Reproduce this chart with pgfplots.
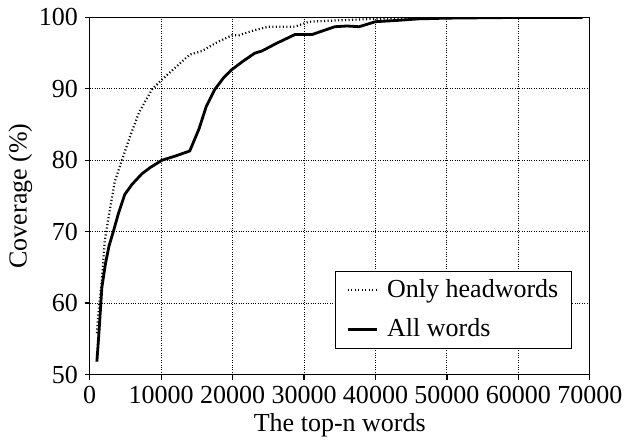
\documentclass[border=0pt]{standalone}
\usepackage{fontspec}
\setmainfont{Liberation Serif}
\usepackage{pgfplots}
\pgfplotsset{compat=1.18}
\begin{document}
\fontsize{26}{30}\selectfont
\begin{tikzpicture}
\begin{axis}[
  scale only axis,
  width=500pt, height=357pt,
  xmin=0, xmax=70000, ymin=50, ymax=100,
  xtick={0,10000,...,70000},
  ytick={50,60,...,100},
  scaled x ticks=false,
  /pgf/number format/1000 sep={},
  /pgf/number format/assume math mode=true,
  ticklabel style={font=\fontsize{26}{30}\selectfont},
  label style={font=\fontsize{26}{30}\selectfont},
  tick align=outside,
  xtick pos=bottom, ytick pos=left,
  major tick length=5pt,
  tick style={line width=1.2pt, black},
  axis line style={line width=1.3pt},
  grid=major,
  grid style={dotted, line width=0.9pt, black},
  xlabel={The top-n words},
  ylabel={Coverage (\%)},
  xlabel style={yshift=8pt},
  ylabel style={yshift=-11pt},
  xticklabel style={yshift=2pt},
  yticklabel style={xshift=2pt},
  legend style={at={(rel axis cs:0.964,0.072)}, anchor=south east,
    draw=black, line width=1pt, font=\fontsize{26}{30}\selectfont,
    inner xsep=11pt, inner ysep=6pt, row sep=13pt},
  legend cell align=left,
  legend image code/.code={\draw[#1] (0pt,0pt) -- (29pt,0pt); \path (36pt,0pt);},
]
\addplot[black, line width=2.2pt, dash pattern=on 1.1pt off 2.4pt] coordinates {
(1000,55.8) (1300,59.5) (1700,63.2) (2100,68.7) (2600,71.8) (3100,74.7) (3500,77) (4500,80.0) (5700,83.5) (6900,86.7) (8700,89.9) (10100,91.3) (12000,93) (14000,94.8) (15700,95.3) (17800,96.5) (19900,97.5) (20900,97.5) (23000,98.2) (25000,98.7) (28700,98.7) (30700,99.4) (35000,99.6) (40000,99.8) (50000,99.95) (60000,100)
};
\addlegendentry{Only headwords}
\addplot[black, line width=2.8pt] coordinates {
(1000,51.8) (1300,56) (1700,62.2) (2200,65.5) (2700,68) (3300,70) (4000,72.5) (4900,75.2) (5900,76.6) (7300,78.1) (8500,79) (10100,80.0) (12000,80.6) (14000,81.3) (15300,84.4) (16300,87.5) (17500,89.9) (18700,91.5) (19900,92.7) (21500,93.9) (23100,95.0) (24100,95.3) (26000,96.3) (28700,97.6) (31100,97.6) (34300,98.7) (36000,98.8) (37700,98.7) (40000,99.4) (43300,99.6) (46000,99.8) (50000,99.9) (60000,100) (69000,100)
};
\addlegendentry{All words}
\end{axis}
\end{tikzpicture}
\end{document}
